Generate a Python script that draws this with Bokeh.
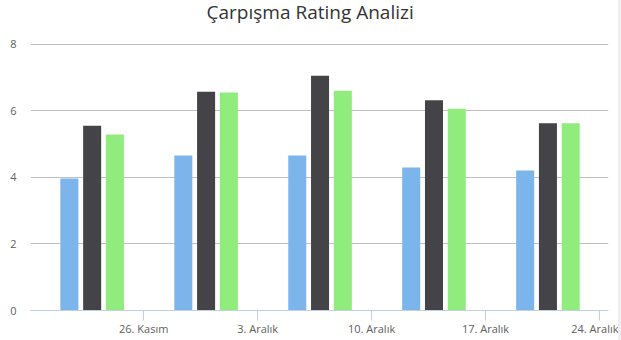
import pandas as pd
from bokeh.plotting import figure
from bokeh.models import ColumnDataSource, FixedTicker, Range1d, Div
from bokeh.layouts import row, column
from bokeh.embed import file_html
from bokeh.resources import INLINE
from bokeh.transform import dodge
from bokeh.core.properties import value

# ---- data ----
dates = ["2015-11-22 20:00", "2015-11-29 20:00", "2015-12-06 20:00",
         "2015-12-13 20:00", "2015-12-20 20:00"]
series_a = [3.97, 4.66, 4.66, 4.30, 4.21]
series_b = [5.56, 6.58, 7.06, 6.32, 5.63]
series_c = [5.29, 6.56, 6.61, 6.07, 5.63]
tick_dates = ["2015-11-26", "2015-12-03", "2015-12-10", "2015-12-17", "2015-12-24"]
tick_labels = ["26. Kasım", "3. Aralık", "10. Aralık", "17. Aralık", "24. Aralık"]
y_ticks = [0, 2, 4, 6, 8]
title_text = "Çarpışma Rating Analizi"

DAY = 86400000.0

def ms(s):
    return pd.Timestamp(s).value / 1e6

# ---- title strip ----
TH = 30
tfig = figure(width=618, height=TH, x_range=Range1d(0, 618), y_range=Range1d(0, TH),
              output_backend="svg", toolbar_location=None,
              min_border=0, min_border_left=0, min_border_right=0,
              min_border_top=0, min_border_bottom=0)
tfig.axis.visible = False
tfig.grid.visible = False
tfig.outline_line_color = None
tfig.border_fill_color = "white"
tfig.text(x=[299], y=[19], text=[title_text], text_align="center",
          text_baseline="alphabetic", text_font=value("Open Sans"),
          text_font_size="19px", text_color="#333333")

# ---- main chart ----
src = ColumnDataSource(dict(x=[ms(d) for d in dates], a=series_a, b=series_b, c=series_c))

p = figure(width=618, height=340 - TH, x_axis_type="datetime",
           x_range=Range1d(ms("2015-11-19 01:06"), ms("2015-12-24 13:18")),
           y_range=Range1d(0, 8.03),
           output_backend="svg", toolbar_location=None,
           min_border_left=30, min_border_right=10,
           min_border_top=43 - TH, min_border_bottom=30)
p.outline_line_color = None
p.background_fill_color = "white"
p.border_fill_color = "white"

bw = 1.107 * DAY
step = 1.399 * DAY
p.vbar(x=dodge("x", -step, range=p.x_range), top="a", width=bw, source=src,
       color="#7cb5ec", line_color=None)
p.vbar(x=dodge("x", 0, range=p.x_range), top="b", width=bw, source=src,
       color="#434348", line_color=None)
p.vbar(x=dodge("x", step, range=p.x_range), top="c", width=bw, source=src,
       color="#90ed7d", line_color=None)

# grids
p.xgrid.grid_line_color = None
p.ygrid.ticker = FixedTicker(ticks=y_ticks)
p.ygrid.grid_line_color = "#c0c0c0"
p.ygrid.level = "underlay"

# y axis
p.yaxis.ticker = FixedTicker(ticks=y_ticks)
p.yaxis.axis_line_color = None
p.yaxis.major_tick_line_color = None
p.yaxis.minor_tick_line_color = None
p.yaxis.major_tick_out = 0
p.yaxis.major_tick_in = 0
p.yaxis.major_label_standoff = 14
p.yaxis.major_label_text_font = "Open Sans"
p.yaxis.major_label_text_font_size = "11px"
p.yaxis.major_label_text_color = "#606060"

# x axis
tick_ms = [ms(t) for t in tick_dates]
p.xaxis.ticker = FixedTicker(ticks=tick_ms)
p.xaxis.major_label_overrides = {t: l for t, l in zip(tick_ms, tick_labels)}
p.xaxis.axis_line_color = "#c0d0e0"
p.xaxis.major_tick_line_color = "#c0d0e0"
p.xaxis.minor_tick_line_color = None
p.xaxis.major_tick_out = 10
p.xaxis.major_tick_in = 0
p.xaxis.major_label_standoff = 0
p.xaxis.major_label_text_font = "Open Sans"
p.xaxis.major_label_text_font_size = "11px"
p.xaxis.major_label_text_color = "#606060"

strip = Div(text="", width=3, height=340, margin=0,
            styles={"background-color": "#eeeeee"})
layout = row(column(tfig, p, spacing=0), strip, spacing=0)

open("out.html", "w").write(file_html(layout, INLINE))
